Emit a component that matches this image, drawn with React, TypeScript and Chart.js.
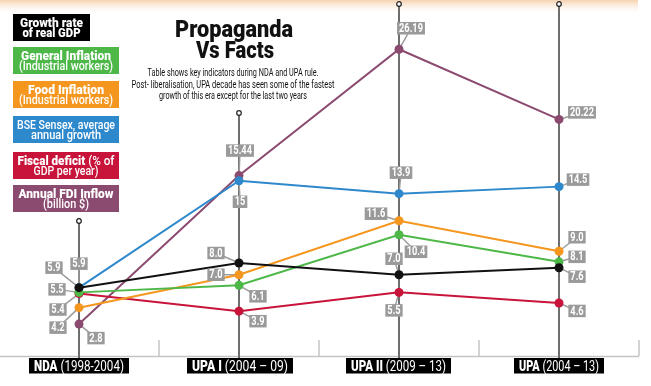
import { useEffect, useRef } from "react";
import { Chart, registerables } from "chart.js";
Chart.register(...registerables);

// ---------- data ----------
const categories = ["NDA", "UPA I", "UPA II", "UPA"];
const categoryPeriods = [" (1998-2004)", " (2004 – 09)", " (2009 – 13)", " (2004 – 13)"];
const gdpGrowth = [5.9, 8.0, 7.0, 7.6];
const generalInflation = [5.5, 6.1, 10.4, 8.1];
const foodInflation = [4.2, 7.0, 11.6, 9.0];
const sensexGrowth = [5.9, 15, 13.9, 14.5];
const fiscalDeficit = [5.4, 3.9, 5.5, 4.6];
const fdiInflow = [2.8, 15.44, 26.19, 20.22];

const titleLines = ["Propaganda", "Vs Facts"];
const subtitleLines = [
  "Table shows key indicators during NDA and UPA rule.",
  "Post- liberalisation, UPA decade has seen some of the fastest",
  "growth of this era except for the last two years",
];

type Run = { text: string; bold?: boolean };

const series = [
  { data: gdpGrowth, color: "#111111", legend: [[{ text: "Growth rate", bold: true }], [{ text: "of real GDP", bold: true }]] as Run[][] },
  { data: generalInflation, color: "#4db848", legend: [[{ text: "General Inflation", bold: true }], [{ text: "(Industrial workers)" }]] as Run[][] },
  { data: foodInflation, color: "#f5961f", legend: [[{ text: "Food Inflation", bold: true }], [{ text: "(Industrial workers)" }]] as Run[][] },
  { data: sensexGrowth, color: "#2d88cc", legend: [[{ text: "BSE Sensex, average" }], [{ text: "annual growth" }]] as Run[][] },
  { data: fiscalDeficit, color: "#c8143a", legend: [[{ text: "Fiscal deficit", bold: true }, { text: " (% of" }], [{ text: "GDP per year)" }]] as Run[][] },
  { data: fdiInflow, color: "#8b4a6f", legend: [[{ text: "Annual FDI Inflow", bold: true }], [{ text: "(billion $)" }]] as Run[][] },
];

// ---------- layout / style (pixels) ----------
const legendBoxX = 13;
const legendBoxW = [77, 106, 106, 106, 106, 106];
const legendBoxTop = [14, 47, 81, 116, 152, 185];
const legendTextW = [[63, 58], [90, 94], [76, 94], [98, 70], [97, 65], [95, 46]];
const axisTopPx = [221, 113, 4, 4];
const catBoxes = [[29, 100], [187, 106], [346, 105], [514, 90]];
const minorTickX = [159, 319, 479, 639];
// label offsets [dx, dy] per series per category
const labelOffsets = [
  [[-25, -20], [-23, -10], [-5, -16], [18, 9]],
  [[-22, -3], [19, 11], [17, 17], [18, -5]],
  [[-21, 20], [-23, 0], [-23, -7], [18, -14]],
  [[0, -24], [1, 21], [2, -21], [19, -7]],
  [[-21, 16], [19, 10], [-5, 18], [18, 8]],
  [[17, 14], [1, -25], [12, -21], [23, -7]],
];

const FONT = "Roboto, 'Noto Sans', sans-serif";

function fmt(v: number): string {
  if (Number.isInteger(v) && v >= 10) return String(v);
  const s = String(v);
  const dec = s.includes(".") ? s.split(".")[1].length : 0;
  return v.toFixed(Math.max(1, dec));
}

function drawRuns(ctx: CanvasRenderingContext2D, runs: Run[], cx: number, y: number, size: number, width: number | null, scale = 1, weightBold = "bold", weightReg = "normal") {
  const fonts = runs.map((r) => `${r.bold ? weightBold : weightReg} ${size}px ${FONT}`);
  const widths = runs.map((r, i) => { ctx.font = fonts[i]; return ctx.measureText(r.text).width; });
  const total = widths.reduce((a, b) => a + b, 0);
  const s = width ? width / total : scale;
  ctx.save();
  ctx.translate(cx - (total * s) / 2, y);
  ctx.scale(s, 1);
  let x = 0;
  runs.forEach((r, i) => { ctx.font = fonts[i]; ctx.fillText(r.text, x, 0); x += widths[i]; });
  ctx.restore();
  return total * s;
}

const decor = {
  id: "decor",
  beforeDatasetsDraw(chart: any) {
    const ctx: CanvasRenderingContext2D = chart.ctx;
    const xs = chart.scales.x;
    const ys = chart.scales.y;
    ctx.save();
    // top band
    const g = ctx.createLinearGradient(0, 0, 0, 15);
    g.addColorStop(0, "rgba(243,196,150,0.75)");
    g.addColorStop(1, "rgba(255,255,255,0)");
    ctx.fillStyle = g;
    ctx.fillRect(0, 0, 638, 15);

    // title
    ctx.fillStyle = "#111";
    ctx.textBaseline = "alphabetic";
    drawRuns(ctx, [{ text: titleLines[0], bold: true }], 234, 37, 23, 118, 1, "900");
    drawRuns(ctx, [{ text: titleLines[1], bold: true }], 235, 58, 23, 78, 1, "900");
    const subW = [171, 203, 148];
    const subY = [76, 87.5, 99];
    subtitleLines.forEach((t, i) => drawRuns(ctx, [{ text: t }], 233, subY[i], 11, subW[i]));

    // legend boxes
    series.forEach((s, i) => {
      const top = legendBoxTop[i];
      const w = legendBoxW[i];
      ctx.fillStyle = s.color === "#111111" ? "#000" : s.color;
      ctx.fillRect(legendBoxX, top, w, 27);
      ctx.fillStyle = "#fff";
      const cx = legendBoxX + w / 2;
      drawRuns(ctx, s.legend[0], cx, top + 12.5, 13.5, legendTextW[i][0], 1, "900", "500");
      drawRuns(ctx, s.legend[1], cx, top + 23, 13.5, legendTextW[i][1], 1, "900", "500");
    });

    // baseline and minor ticks
    ctx.strokeStyle = "#c4c4c4";
    ctx.lineWidth = 1.5;
    ctx.beginPath();
    ctx.moveTo(0, 356.5);
    ctx.lineTo(639, 356.5);
    ctx.stroke();
    minorTickX.forEach((x) => {
      ctx.beginPath();
      ctx.moveTo(x, 340);
      ctx.lineTo(x, 356);
      ctx.stroke();
    });

    // vertical axes
    categories.forEach((_, i) => {
      const x = xs.getPixelForValue(i);
      ctx.strokeStyle = "#6e6e6e";
      ctx.lineWidth = 2;
      ctx.beginPath();
      ctx.moveTo(x, axisTopPx[i]);
      ctx.lineTo(x, 358);
      ctx.stroke();
    });

    // pointer lines
    ctx.strokeStyle = "#9c9c9c";
    ctx.lineWidth = 1.5;
    series.forEach((s, si) => {
      s.data.forEach((v, ci) => {
        const px = xs.getPixelForValue(ci);
        const py = ys.getPixelForValue(v);
        const [dx, dy] = labelOffsets[si][ci];
        ctx.beginPath();
        ctx.moveTo(px + dx, py + dy);
        ctx.lineTo(px, py);
        ctx.stroke();
      });
    });

    // category labels
    categories.forEach((c, i) => {
      const [bx, bw] = catBoxes[i];
      ctx.fillStyle = "#000";
      ctx.fillRect(bx, 358, bw, 15.5);
      ctx.fillStyle = "#fff";
      drawRuns(ctx, [{ text: c, bold: true }, { text: categoryPeriods[i] }], bx + bw / 2, 370.5, 14, bw - 10, 1, "900");
    });
    ctx.restore();
  },
  afterDatasetsDraw(chart: any) {
    const ctx: CanvasRenderingContext2D = chart.ctx;
    const xs = chart.scales.x;
    const ys = chart.scales.y;
    ctx.save();
    // axis top circles
    categories.forEach((_, i) => {
      const x = xs.getPixelForValue(i);
      ctx.beginPath();
      ctx.arc(x, axisTopPx[i], 2.3, 0, Math.PI * 2);
      ctx.fillStyle = "#fff";
      ctx.fill();
      ctx.strokeStyle = "#222";
      ctx.lineWidth = 1.2;
      ctx.stroke();
    });
    // value labels
    ctx.textBaseline = "middle";
    series.forEach((s, si) => {
      s.data.forEach((v, ci) => {
        const px = xs.getPixelForValue(ci);
        const py = ys.getPixelForValue(v);
        const [dx, dy] = labelOffsets[si][ci];
        const t = fmt(v);
        ctx.font = `bold 12.5px ${FONT}`;
        const tw = ctx.measureText(t).width * 0.74;
        const bw = tw + 4;
        const bh = 12.5;
        const cx = px + dx;
        const cy = py + dy;
        ctx.fillStyle = "#9a9a9a";
        ctx.fillRect(cx - bw / 2, cy - bh / 2, bw, bh);
        ctx.fillStyle = "#fff";
        drawRuns(ctx, [{ text: t }], cx, cy + 0.5, 12.5, null, 0.74, "bold", "bold");
      });
    });
    ctx.restore();
  },
};

export default function App() {
  const ref = useRef<HTMLCanvasElement | null>(null);
  useEffect(() => {
    if (!ref.current) return;
    const chart = new Chart(ref.current, {
      type: "line",
      data: {
        labels: categories,
        datasets: series.map((s) => ({
          data: s.data,
          borderColor: s.color,
          backgroundColor: s.color,
          pointBackgroundColor: s.color,
          pointBorderWidth: 0,
          pointRadius: 4.5,
          borderWidth: 2,
          tension: 0,
          fill: false,
          clip: false as any,
        })),
      },
      options: {
        responsive: false,
        animation: false,
        devicePixelRatio: 1,
        layout: { padding: { left: 79, right: 92, top: 3, bottom: 29 } },
        scales: {
          x: { type: "category", offset: false, display: false },
          y: { min: 0, max: 30, display: false },
        },
        plugins: { legend: { display: false }, tooltip: { enabled: false } },
      },
      plugins: [decor],
    });
    return () => chart.destroy();
  }, []);
  return (
    <div style={{ position: "absolute", left: 0, top: 0, width: 651, height: 386, background: "#fff" }}>
      <canvas ref={ref} width={651} height={386} style={{ display: "block" }} />
    </div>
  );
}
